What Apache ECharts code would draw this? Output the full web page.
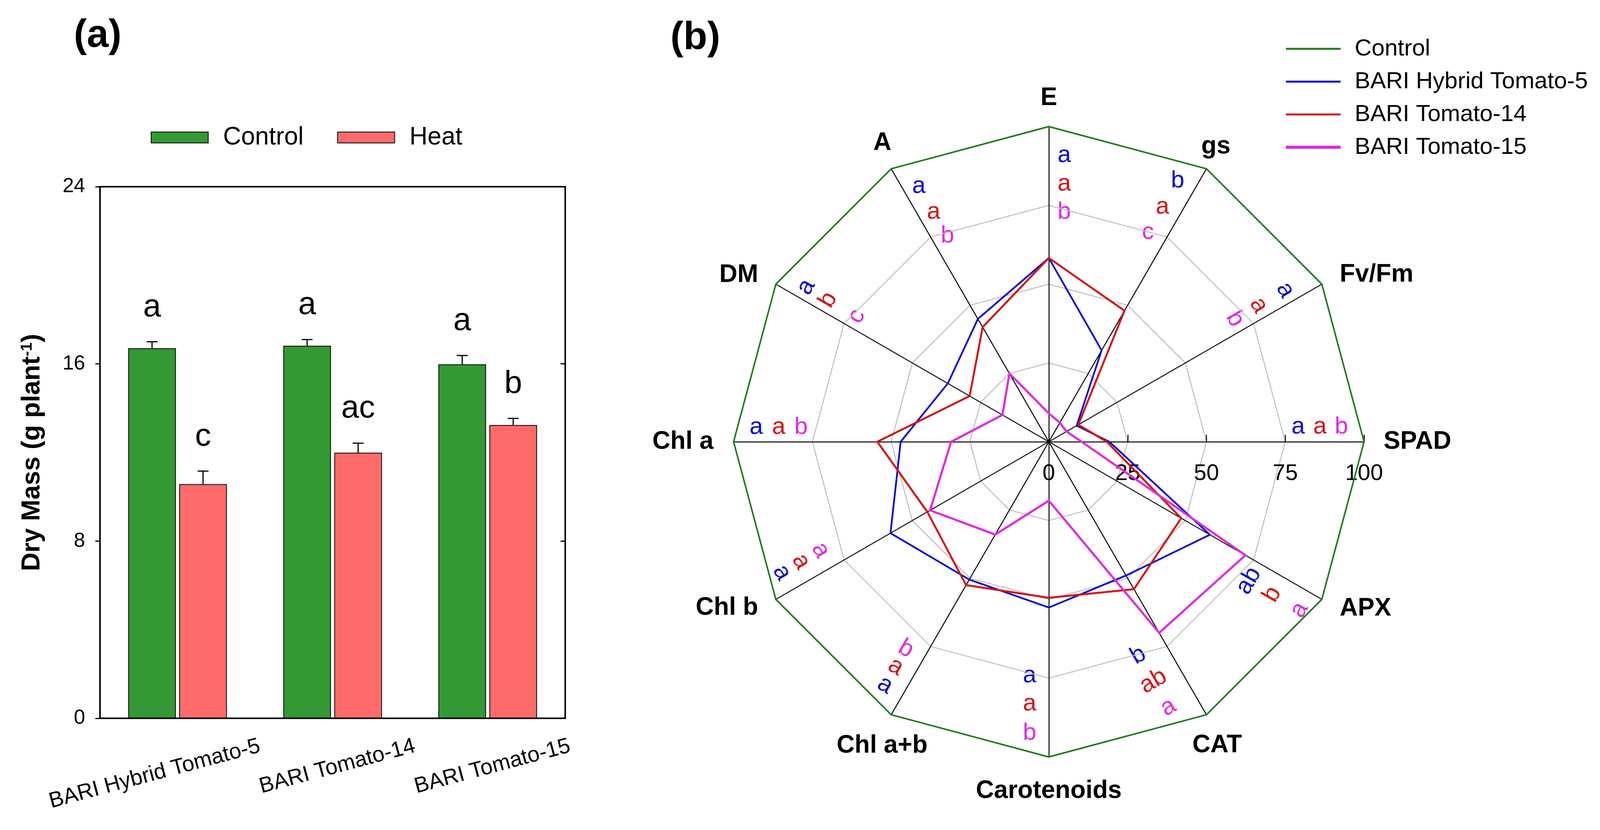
<!DOCTYPE html>
<html>
<head>
<meta charset="utf-8">
<script src="https://cdn.jsdelivr.net/npm/echarts@6.0.0/dist/echarts.min.js"></script>
<style>
html,body{margin:0;padding:0;background:#fff;}
#chart{width:4117px;height:2125px;}
</style>
</head>
<body>
<div id="chart"></div>
<script>
// ---------------- DATA: panel (a) ----------------
const cultivars = ['BARI Hybrid Tomato-5', 'BARI Tomato-14', 'BARI Tomato-15'];
const controlMass = [16.71, 16.82, 15.98];
const controlErr = [0.29, 0.28, 0.40];
const heatMass = [10.57, 11.99, 13.24];
const heatErr = [0.59, 0.43, 0.30];
const controlLetters = ['a', 'a', 'a'];
const heatLetters = ['c', 'ac', 'b'];
const massTicks = [0, 8, 16, 24];

// ---------------- DATA: panel (b) (clockwise from top) ----------------
const radarAxes = ['E', 'gs', 'Fv/Fm', 'SPAD', 'APX', 'CAT', 'Carotenoids', 'Chl a+b', 'Chl b', 'Chl a', 'DM', 'A'];
const controlRadar = [100, 100, 100, 100, 100, 100, 100, 100, 100, 100, 100, 100];
const hybrid5Radar = [58.3, 33.5, 10.2, 19.2, 59.0, 49.0, 52.6, 50.5, 58.0, 47.0, 37.0, 45.0];
const tomato14Radar = [58.3, 48.0, 10.8, 18.4, 48.5, 54.0, 49.5, 52.5, 44.5, 54.4, 29.0, 42.0];
const tomato15Radar = [9.0, 7.0, 6.5, 10.4, 72.0, 70.0, 18.7, 34.0, 43.5, 31.0, 17.0, 25.0];
const radarTicks = [0, 25, 50, 75, 100];
const hybrid5Letters = ['a', 'b', 'a', 'a', 'ab', 'b', 'a', 'a', 'a', 'a', 'a', 'a'];
const tomato14Letters = ['a', 'a', 'a', 'a', 'b', 'ab', 'a', 'a', 'a', 'a', 'b', 'a'];
const tomato15Letters = ['b', 'c', 'b', 'b', 'a', 'a', 'b', 'b', 'a', 'b', 'c', 'b'];
const radarSeriesNames = ['Control', 'BARI Hybrid Tomato-5', 'BARI Tomato-14', 'BARI Tomato-15'];

// ---------------- STYLE / LAYOUT ----------------
const FONT = "'Liberation Sans', Arial, Helvetica, sans-serif";
const GREEN_BAR = '#339933', RED_BAR = '#ff6b6b';
const C_CTRL = '#1c7c1c', C_BLUE = '#0a0ad2', C_RED = '#d41414', C_MAG = '#e02ae0';
const BAR_W = 122, BAR_GAP = 0.07;
const BAR_OFF = (BAR_W + BAR_W * BAR_GAP) / 2;
const RCX = 2685, RCY = 1131, RADIUS = 807;
const K = RADIUS / 100;
// significance-letter placement along each axis (units of the axis), [blue, red, magenta]
const letterAlong = [[90.8,81.8,72.9],[92.1,82.5,73.3],[89.0,79.3,70.6],[79.1,86.0,92.8],[77.0,85.6,95.5],[72.9,82.4,91.9],[74.2,83.1,92.4],[92.8,86.1,79.6],[94.1,87.1,79.9],[92.8,85.7,78.6],[91.2,83.1,72.7],[90.8,81.4,72.6]];
const letterPerp = [-4.9, 6.0, 4.2, 4.7, -6.5, -9.3, -6.1, -6.4, -6.4, -4.6, -4.0, -4.8];
const letterRot = [0, 0, -60, 0, 60, 30, 0, -30, -60, 0, 60, 0];
// axis-name placement (units of the axis)
const nameUx = [0, 53.0, 92.3, 106.2, 92.3, 53.4, 0, -52.9, -92.2, -106.4, -92.2, -52.8];
const nameUy = [109, 93.6, 53.0, 0, -52.9, -96.3, -110.8, -96.5, -52.7, 0, 52.9, 94.7];
const nameAlign = ['center','center','left','left','left','center','center','center','right','right','right','center'];

// ECharts radar runs counter-clockwise; map clockwise list into it
const ccwOrder = radarAxes.map((_, i) => (i === 0 ? 0 : radarAxes.length - i));
const toCcw = arr => ccwOrder.map(i => arr[i]);
const SPAD_IDX = radarAxes.indexOf('SPAD');

// ---------------- graphics (text annotations) ----------------
const graphics = [];
graphics.push({type: 'text', x: 250, y: 92, style: {text: '(a)', fill: '#000', font: `bold 100px ${FONT}`, align: 'center', verticalAlign: 'middle'}});
graphics.push({type: 'text', x: 1780, y: 98, style: {text: '(b)', fill: '#000', font: `bold 100px ${FONT}`, align: 'center', verticalAlign: 'middle'}});
radarAxes.forEach((nm, i) => {
  graphics.push({type: 'text', x: RCX + K * nameUx[i], y: RCY - K * nameUy[i],
    style: {text: nm, fill: '#000', font: `bold 64px ${FONT}`, align: nameAlign[i], verticalAlign: 'middle'}});
});
const letterSets = [hybrid5Letters, tomato14Letters, tomato15Letters];
const letterColors = [C_BLUE, C_RED, C_MAG];
radarAxes.forEach((nm, i) => {
  const th = (90 - 30 * i) * Math.PI / 180;
  for (let s = 0; s < 3; s++) {
    const a = letterAlong[i][s], p = letterPerp[i];
    const x = RCX + K * (a * Math.cos(th) - p * Math.sin(th));
    const y = RCY - K * (a * Math.sin(th) + p * Math.cos(th));
    graphics.push({type: 'text', x: x, y: y, rotation: letterRot[i] * Math.PI / 180,
      style: {text: letterSets[s][i], fill: letterColors[s], font: `62px ${FONT}`, align: 'center', verticalAlign: 'middle'}});
  }
});

// ---------------- error bars + letters (panel a) ----------------
function errRenderer(sign, errs, letters) {
  return function (params, api) {
    const i = api.value(0), v = api.value(1), e = errs[params.dataIndex];
    const base = api.coord([i, v]);
    const top = api.coord([i, v + e]);
    const x = base[0] + sign * BAR_OFF;
    return {type: 'group', children: [
      {type: 'line', shape: {x1: x, y1: base[1], x2: x, y2: top[1]}, style: {stroke: '#000', lineWidth: 3}},
      {type: 'line', shape: {x1: x - 14, y1: top[1], x2: x + 14, y2: top[1]}, style: {stroke: '#000', lineWidth: 3}},
      {type: 'text', x: x, y: top[1] - 47, style: {text: letters[params.dataIndex], fill: '#000', font: `82px ${FONT}`, align: 'center', verticalAlign: 'bottom'}}
    ]};
  };
}

const legendIcon = h => `path://M0,0H140V${h}H0Z`;

const option = {
  backgroundColor: '#fff',
  animation: false,
  textStyle: {fontFamily: FONT},
  grid: {left: 256, top: 478, width: 1191, height: 1361, show: true, borderColor: '#000', borderWidth: 4, containLabel: false},
  legend: [
    {data: ['Control', 'Heat'], left: 386, top: 320, orient: 'horizontal', icon: 'rect', itemWidth: 146, itemHeight: 28, itemGap: 86, padding: 0,
     textStyle: {fontSize: 64, color: '#000', fontFamily: FONT, padding: [0, 0, 0, 33]}},
    {data: [
        {name: 'Control ', icon: legendIcon(5), itemStyle: {color: C_CTRL, borderWidth: 0}},
        {name: 'BARI Hybrid Tomato-5', icon: legendIcon(5), itemStyle: {color: C_BLUE, borderWidth: 0}},
        {name: 'BARI Tomato-14', icon: legendIcon(5), itemStyle: {color: C_RED, borderWidth: 0}},
        {name: 'BARI Tomato-15', icon: legendIcon(8), itemStyle: {color: C_MAG, borderWidth: 0}}],
     formatter: n => n.trim(),
     orient: 'vertical', left: 3292, top: 95, itemWidth: 140, itemHeight: 20, itemGap: 24, padding: 0,
     textStyle: {fontSize: 60, color: '#000', fontFamily: FONT, padding: [0, 0, 0, 31]}}
  ],
  xAxis: {type: 'category', data: cultivars, gridIndex: 0,
    axisLine: {lineStyle: {color: '#000', width: 4}},
    axisTick: {alignWithLabel: true, length: 16, lineStyle: {color: '#000', width: 3}},
    axisLabel: {interval: 0, rotate: 15, align: 'right', margin: 127, padding: [0, -218, 0, 0], fontSize: 56, color: '#000', fontFamily: FONT}},
  yAxis: [
    {type: 'value', min: massTicks[0], max: massTicks[massTicks.length - 1], interval: massTicks[1] - massTicks[0],
     axisLine: {show: true, lineStyle: {color: '#000', width: 4}},
     axisTick: {show: true, length: 12, lineStyle: {color: '#000', width: 3}},
     axisLabel: {fontSize: 52, color: '#000', margin: 38, fontFamily: FONT},
     splitLine: {show: false},
     name: 'Dry Mass (g plant{sup|-1})', nameLocation: 'middle', nameGap: 140,
     nameTextStyle: {fontSize: 66, fontWeight: 'bold', color: '#000', fontFamily: FONT,
       rich: {sup: {fontSize: 40, fontWeight: 'bold', color: '#000', fontFamily: FONT, verticalAlign: 'top', lineHeight: 40}}}},
    {type: 'value', position: 'right', min: massTicks[0], max: massTicks[massTicks.length - 1], interval: massTicks[1] - massTicks[0],
     axisLine: {show: true, lineStyle: {color: '#000', width: 4}},
     axisTick: {show: true, inside: true, length: 12, lineStyle: {color: '#000', width: 3}},
     axisLabel: {show: false}, splitLine: {show: false}}
  ],
  radar: {
    center: [RCX, RCY], radius: RADIUS, startAngle: 90, shape: 'polygon', splitNumber: radarTicks.length - 1,
    indicator: ccwOrder.map(i => {
      const ind = {name: radarAxes[i], min: radarTicks[0], max: radarTicks[radarTicks.length - 1]};
      if (i === SPAD_IDX) {
        ind.axisLabel = {show: true, fontSize: 58, color: '#000', fontFamily: FONT, margin: -82, verticalAlign: 'middle', align: 'center'};
        ind.axisTick = {show: true, inside: true, length: 18, lineStyle: {color: '#000', width: 2.5}};
      }
      return ind;
    }),
    axisName: {show: false},
    axisLine: {lineStyle: {color: '#000', width: 2.5}},
    splitLine: {lineStyle: {color: '#bdbdbd', width: 2.5}},
    splitArea: {show: false},
    axisLabel: {show: false},
    axisTick: {show: false}
  },
  graphic: graphics,
  series: [
    {name: 'Control', type: 'bar', data: controlMass, barWidth: BAR_W, barGap: (BAR_GAP * 100) + '%',
     itemStyle: {color: GREEN_BAR, borderColor: '#000', borderWidth: 2}},
    {name: 'Heat', type: 'bar', data: heatMass, barWidth: BAR_W,
     itemStyle: {color: RED_BAR, borderColor: '#000', borderWidth: 2}},
    {name: 'errControl', type: 'custom', data: controlMass.map((v, i) => [i, v]), z: 10,
     renderItem: errRenderer(-1, controlErr, controlLetters)},
    {name: 'errHeat', type: 'custom', data: heatMass.map((v, i) => [i, v]), z: 10,
     renderItem: errRenderer(1, heatErr, heatLetters)},
    {name: 'Control ', type: 'radar', symbol: 'none', z: 2,
     lineStyle: {color: C_CTRL, width: 4}, itemStyle: {color: C_CTRL},
     data: [{name: 'Control ', value: toCcw(controlRadar)}]},
    {name: radarSeriesNames[1], type: 'radar', symbol: 'none', z: 3,
     lineStyle: {color: C_BLUE, width: 4.5}, itemStyle: {color: C_BLUE},
     data: [{name: radarSeriesNames[1], value: toCcw(hybrid5Radar)}]},
    {name: radarSeriesNames[2], type: 'radar', symbol: 'none', z: 4,
     lineStyle: {color: C_RED, width: 5}, itemStyle: {color: C_RED},
     data: [{name: radarSeriesNames[2], value: toCcw(tomato14Radar)}]},
    {name: radarSeriesNames[3], type: 'radar', symbol: 'none', z: 5,
     lineStyle: {color: C_MAG, width: 5.5}, itemStyle: {color: C_MAG},
     data: [{name: radarSeriesNames[3], value: toCcw(tomato15Radar)}]}
  ]
};

const chart = echarts.init(document.getElementById('chart'), null, {renderer: 'canvas'});
chart.setOption(option);
</script>
</body>
</html>
